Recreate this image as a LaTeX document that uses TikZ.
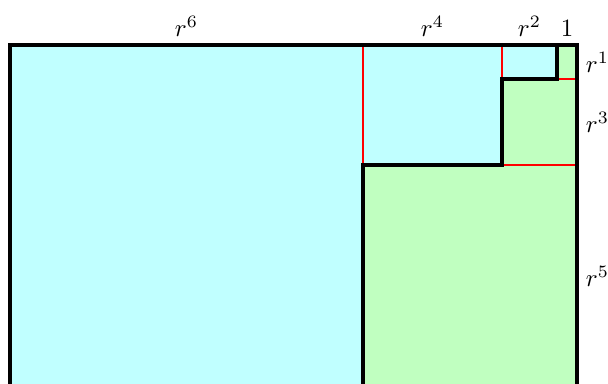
\documentclass[tikz,border=0pt]{standalone}
\definecolor{paleblue}{RGB}{192,255,255}
\definecolor{palegreen}{RGB}{192,255,192}
\begin{document}
\begin{tikzpicture}[x=.0141cm,y=.0141cm]
  \clip (0,0) rectangle (608,383);
  \fill[paleblue] (10,-4)--(10,338)--(557,338)--(557,304)--(502,304)--(502,218)--(363,218)--(363,-4)--cycle;
  \fill[palegreen] (363,-4)--(363,218)--(502,218)--(502,304)--(557,304)--(557,338)--(577,338)--(577,-4)--cycle;
  \draw[red,line width=.45pt] (363,338)--(363,218) (502,338)--(502,304) (557,304)--(577,304) (502,218)--(577,218);
  \draw[line width=1.4pt] (10,-4) rectangle (577,338);
  \draw[line width=1.4pt] (363,-4)--(363,218)--(502,218)--(502,304)--(557,304)--(557,338);
  \path (186.5,338) node[above] (top6) {$r^6$} (432.5,338) node[above] (top4) {$r^4$}
        (529.5,338) node[above] (top2) {$r^2$} (567,338) node[above] (top0) {$1$};
  \path (577,321) node[right] (side1) {$r^1$} (577,261) node[right] (side3) {$r^3$}
        (577,107) node[right] (side5) {$r^5$};
\end{tikzpicture}
\end{document}
